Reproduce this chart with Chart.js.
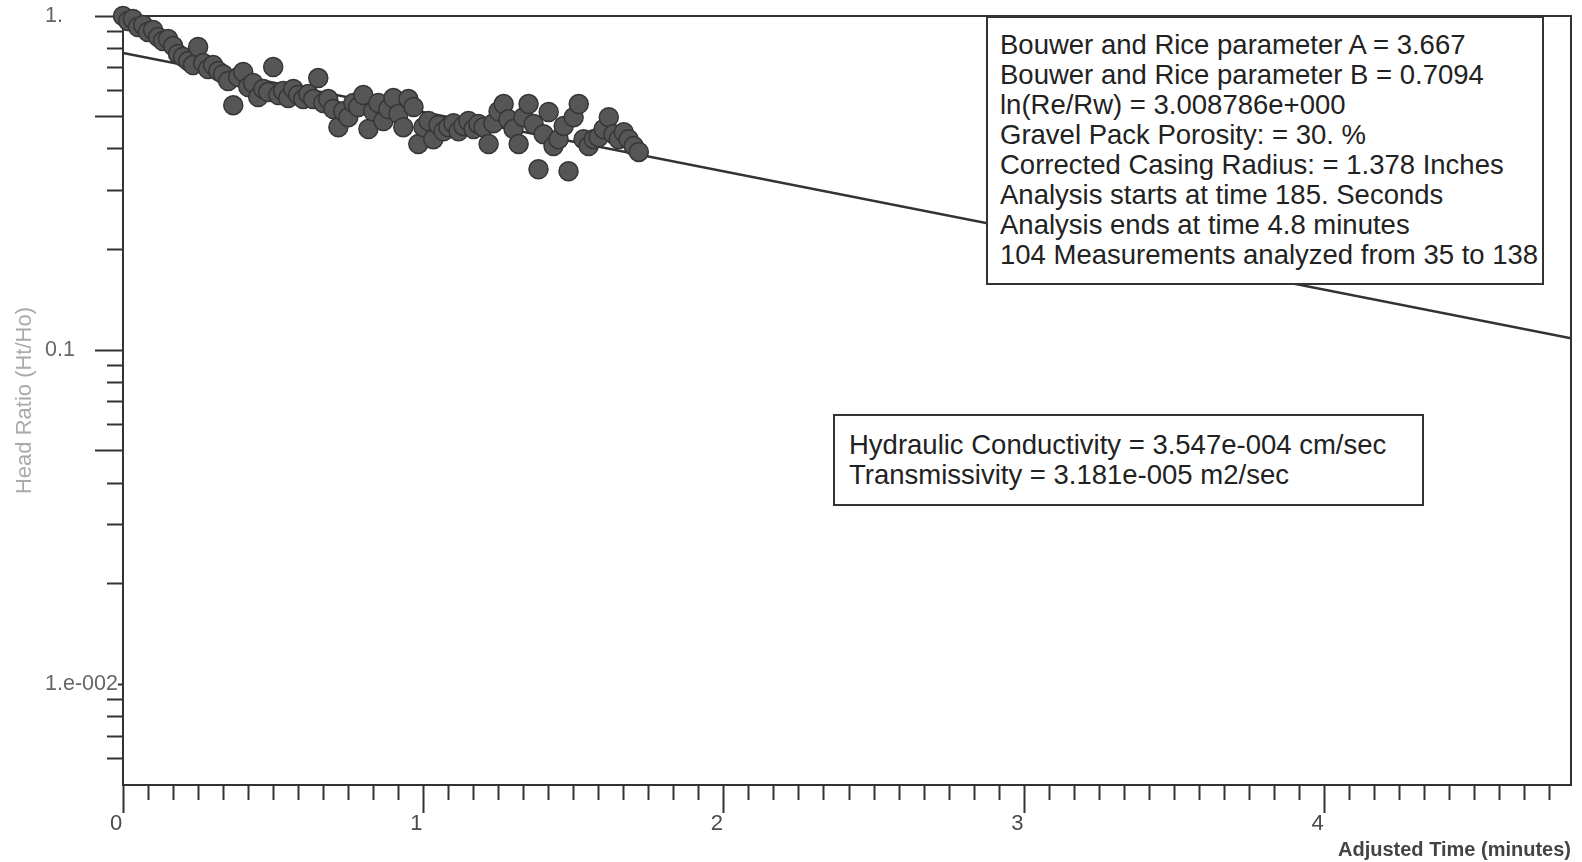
<!DOCTYPE html>
<html>
<head>
<meta charset="utf-8">
<script src="https://cdn.jsdelivr.net/npm/chart.js@4/dist/chart.umd.min.js"></script>
<style>
  body { margin: 0; background: #fff; }
  #wrap { position: relative; width: 1582px; height: 862px; }
  .note {
    position: absolute; box-sizing: border-box; background: #fff;
    border: 2px solid #333; color: #222; white-space: pre;
    font-family: "Liberation Sans", Arial, sans-serif; font-size: 27.5px; line-height: 30px;
  }
</style>
</head>
<body>
<div id="wrap">
  <canvas id="slug-chart" width="1582" height="862"></canvas>
  <div class="note" style="left:986px;top:16px;width:558px;height:269px;padding:12px 0 0 12px;">Bouwer and Rice parameter A = 3.667
Bouwer and Rice parameter B = 0.7094
ln(Re/Rw) = 3.008786e+000
Gravel Pack Porosity: = 30. %
Corrected Casing Radius: = 1.378 Inches
Analysis starts at time 185. Seconds
Analysis ends at time 4.8 minutes
104 Measurements analyzed from 35 to 138</div>
  <div class="note" style="left:833px;top:414px;width:591px;height:92px;padding:14px 0 0 14px;">Hydraulic Conductivity = 3.547e-004 cm/sec
Transmissivity = 3.181e-005 m2/sec</div>
</div>
<script>
// measurements (adjusted time in minutes, head ratio Ht/Ho)
const times = [
  0, 0.017, 0.033, 0.05, 0.067, 0.083, 0.1, 0.117, 0.133, 0.15,
  0.167, 0.183, 0.2, 0.217, 0.233, 0.25, 0.267, 0.283, 0.3, 0.317,
  0.333, 0.35, 0.367, 0.383, 0.4, 0.417, 0.433, 0.45, 0.467, 0.483,
  0.5, 0.517, 0.533, 0.55, 0.567, 0.583, 0.6, 0.617, 0.633, 0.65,
  0.667, 0.683, 0.7, 0.717, 0.733, 0.75, 0.767, 0.783, 0.8, 0.817,
  0.833, 0.85, 0.867, 0.883, 0.9, 0.917, 0.933, 0.95, 0.967, 0.983,
  1.0, 1.017, 1.033, 1.05, 1.067, 1.083, 1.1, 1.117, 1.133, 1.15,
  1.167, 1.183, 1.2, 1.217, 1.233, 1.25, 1.267, 1.283, 1.3, 1.317,
  1.333, 1.35, 1.367, 1.383, 1.4, 1.417, 1.433, 1.45, 1.467, 1.483,
  1.5, 1.517, 1.533, 1.55, 1.567, 1.583, 1.6, 1.617, 1.633, 1.65,
  1.667, 1.683, 1.7, 1.717
];
const headRatio = [
  1.0, 0.966, 0.980, 0.927, 0.940, 0.896, 0.908, 0.865, 0.842, 0.853,
  0.813, 0.770, 0.754, 0.733, 0.713, 0.808, 0.723, 0.694, 0.713, 0.684,
  0.670, 0.639, 0.541, 0.657, 0.680, 0.613, 0.630, 0.572, 0.605, 0.592,
  0.704, 0.580, 0.596, 0.568, 0.605, 0.580, 0.564, 0.584, 0.564, 0.652,
  0.549, 0.564, 0.527, 0.465, 0.519, 0.498, 0.549, 0.534, 0.580, 0.459,
  0.519, 0.549, 0.485, 0.527, 0.568, 0.509, 0.465, 0.564, 0.534, 0.414,
  0.465, 0.485, 0.428, 0.472, 0.452, 0.465, 0.478, 0.452, 0.469, 0.485,
  0.459, 0.475, 0.465, 0.414, 0.478, 0.519, 0.545, 0.491, 0.459, 0.414,
  0.498, 0.545, 0.475, 0.348, 0.443, 0.516, 0.408, 0.428, 0.469, 0.343,
  0.498, 0.545, 0.428, 0.408, 0.428, 0.434, 0.459, 0.498, 0.443, 0.428,
  0.449, 0.428, 0.408, 0.392
];

// fitted straight line (Bouwer and Rice)
const fitTimes = [0, 4.82];
const fitRatio = [0.775, 0.1086];

// axes
const xMax = 4.82;
const xTickStep = 1 / 12;   // every 5 seconds
const xLabels = ['0', '1', '2', '3', '4'];
const yMin = 0.005;
const yTicks = [1, 0.9, 0.8, 0.7, 0.6, 0.5, 0.4, 0.3, 0.2,
  0.1, 0.09, 0.08, 0.07, 0.06, 0.05, 0.04, 0.03, 0.02,
  0.01, 0.009, 0.008, 0.007, 0.006];
const yMajor = [1, 0.5, 0.1, 0.05, 0.01];
const yLabelValues = [1, 0.1, 0.01];
const yLabelTexts = ['1.', '0.1', '1.e-002'];

const FONT = '"Liberation Sans", Arial, sans-serif';
const AXIS = '#333';

const ctx = document.getElementById('slug-chart').getContext('2d');
const chart = new Chart(ctx, {
  type: 'scatter',
  data: {
    datasets: [{
      label: 'Measurements',
      data: times.map((t, i) => ({ x: t, y: headRatio[i] })),
      pointRadius: 9.5,
      backgroundColor: '#565656',
      borderColor: '#363636',
      borderWidth: 1.5,
      clip: false
    }, {
      label: 'Fit',
      data: fitTimes.map((t, i) => ({ x: t, y: fitRatio[i] })),
      showLine: true,
      pointRadius: 0,
      borderColor: '#333',
      borderWidth: 2.5
    }]
  },
  options: {
    responsive: false,
    animation: false,
    events: [],
    layout: { padding: { left: 12, top: 16, right: 8, bottom: 0 } },
    plugins: { legend: { display: false }, tooltip: { enabled: false } },
    scales: {
      x: {
        type: 'linear',
        position: 'bottom',
        min: 0,
        max: xMax,
        afterBuildTicks: (scale) => {
          scale.ticks = [];
          for (let k = 0; k * xTickStep <= xMax; k++) scale.ticks.push({ value: k * xTickStep });
        },
        afterFit: (scale) => { scale.height = 77; },
        grid: {
          drawOnChartArea: false,
          tickLength: 28,
          tickWidth: 2,
          tickColor: AXIS,
          tickBorderDash: (c) => (c.index % 12 === 0 ? [] : [14, 100]),
          tickBorderDashOffset: 0
        },
        border: { color: AXIS, width: 2 },
        ticks: {
          autoSkip: false,
          maxRotation: 0,
          padding: 0,
          labelOffset: -7,
          color: '#4a4a4a',
          font: { family: FONT, size: 22, lineHeight: 1 },
          callback: (v, i) => (i % 12 === 0 ? xLabels[i / 12] : '')
        },
        title: {
          display: true,
          text: 'Adjusted Time (minutes)',
          align: 'end',
          padding: 0,
          color: '#444',
          font: { family: FONT, size: 20, weight: 'bold' }
        }
      },
      y: {
        type: 'logarithmic',
        position: 'left',
        min: yMin,
        max: 1,
        afterBuildTicks: (scale) => { scale.ticks = yTicks.map(v => ({ value: v })); },
        afterFit: (scale) => { scale.width = 78; },
        grid: {
          drawOnChartArea: false,
          tickLength: 28,
          tickWidth: 2,
          tickColor: AXIS,
          tickBorderDash: (c) => (yMajor.includes(c.tick.value) ? [] : [15, 12]),
          tickBorderDashOffset: (c) => (yMajor.includes(c.tick.value) ? 0 : 15)
        },
        border: { color: AXIS, width: 2 },
        ticks: {
          autoSkip: false,
          crossAlign: 'far',
          color: '#666',
          showLabelBackdrop: true,
          backdropColor: '#fff',
          backdropPadding: 0,
          font: { family: FONT, size: 21.5 },
          callback: (v) => {
            const k = yLabelValues.indexOf(v);
            return k >= 0 ? yLabelTexts[k] : '';
          }
        }
      },
      yTitle: {
        type: 'linear',
        position: 'left',
        weight: 10,
        afterFit: (scale) => { scale.width = 33; },
        grid: { display: false },
        border: { display: false },
        ticks: { display: false },
        title: {
          display: true,
          text: 'Head Ratio (Ht/Ho)',
          padding: 0,
          color: '#aaa',
          font: { family: FONT, size: 22 }
        }
      },
      xTop: {
        type: 'linear',
        position: 'top',
        afterFit: (scale) => { scale.height = 0; },
        grid: { display: false },
        ticks: { display: false },
        border: { color: AXIS, width: 2 }
      },
      yRight: {
        type: 'linear',
        position: 'right',
        afterFit: (scale) => { scale.width = 0; },
        grid: { display: false },
        ticks: { display: false },
        border: { color: AXIS, width: 2 }
      }
    }
  }
});
</script>
</body>
</html>
